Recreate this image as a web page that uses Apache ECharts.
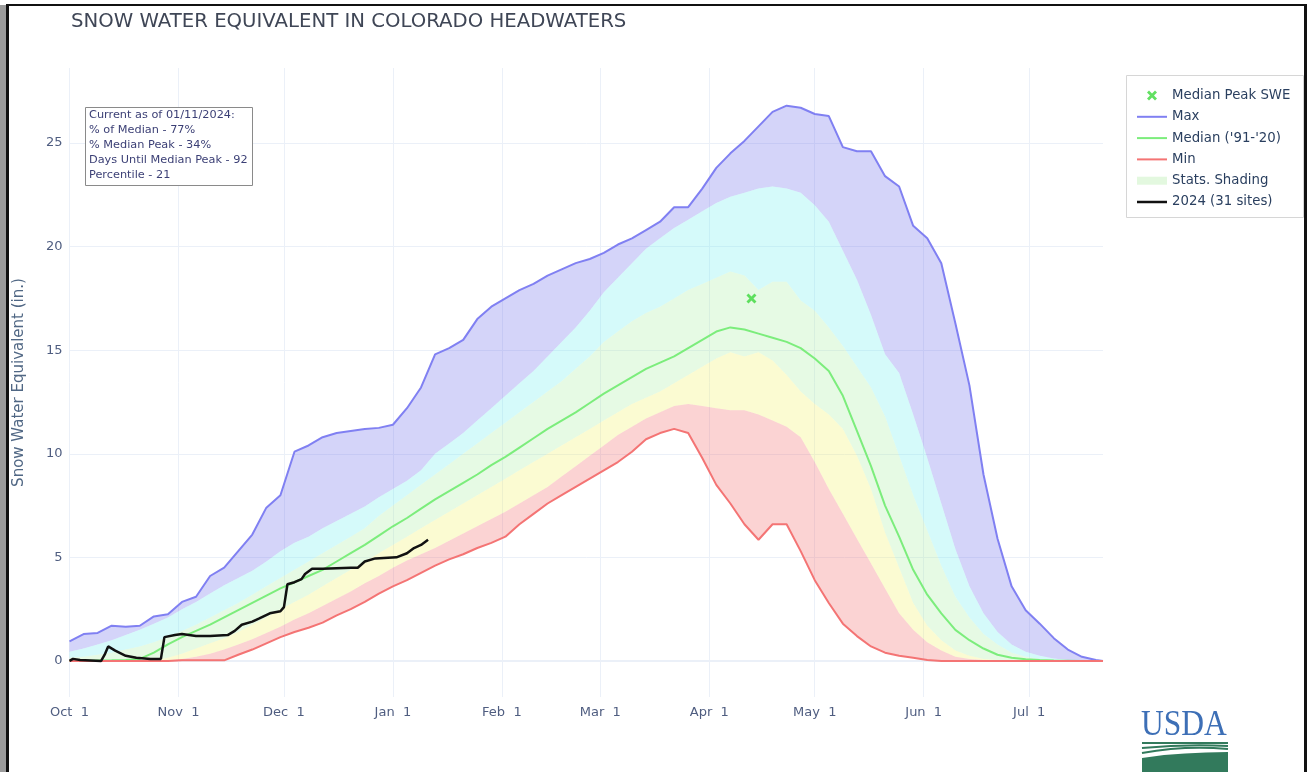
<!DOCTYPE html>
<html>
<head>
<meta charset="utf-8">
<script src="https://cdn.jsdelivr.net/npm/echarts@6/dist/echarts.min.js"></script>
<style>
  html, body { margin: 0; padding: 0; background: #fff; }
  #main { width: 1307px; height: 772px; }
</style>
</head>
<body>
<div id="main"></div>
<script>
// days since Oct 1 (water year day), shared by all the stats series
var days = [0,4,8,12,16,20,24,28,32,36,40,44,48,52,56,60,64,68,72,76,80,84,88,92,96,100,104,108,112,116,120,124,128,132,136,140,144,148,152,156,160,164,168,172,176,180,184,188,192,196,200,204,208,212,216,220,224,228,232,236,240,244,248,252,256,260,264,268,272,276,280,284,288,292,294];

var maxSwe = [0.95,1.3,1.35,1.7,1.65,1.7,2.15,2.25,2.85,3.1,4.1,4.5,5.3,6.1,7.4,8.0,10.1,10.4,10.8,11.0,11.1,11.2,11.25,11.4,12.2,13.2,14.8,15.1,15.5,16.5,17.1,17.5,17.9,18.2,18.6,18.9,19.2,19.4,19.7,20.1,20.4,20.8,21.2,21.9,21.9,22.8,23.8,24.5,25.1,25.8,26.5,26.8,26.7,26.4,26.3,24.8,24.6,24.6,23.4,22.9,21.0,20.4,19.2,16.3,13.3,9.0,5.9,3.6,2.45,1.8,1.1,0.55,0.2,0.05,0];
var p90 = [0.45,0.6,0.8,1.0,1.25,1.5,1.8,2.1,2.5,2.85,3.25,3.65,4.0,4.35,4.8,5.3,5.7,6.0,6.4,6.75,7.1,7.45,7.9,8.3,8.7,9.2,10.0,10.5,11.0,11.6,12.2,12.8,13.4,14.0,14.7,15.4,16.1,16.9,17.8,18.5,19.2,19.9,20.4,20.9,21.3,21.7,22.1,22.4,22.6,22.8,22.9,22.8,22.6,22.0,21.2,19.8,18.4,16.7,14.8,13.9,11.9,9.8,7.6,5.4,3.6,2.3,1.4,0.8,0.45,0.25,0.12,0.05,0.02,0,0];
var p70 = [0.15,0.2,0.3,0.4,0.55,0.7,0.9,1.15,1.45,1.75,2.1,2.45,2.8,3.2,3.6,4.0,4.4,4.8,5.2,5.6,6.0,6.4,7.0,7.5,8.0,8.5,9.0,9.5,10.0,10.5,11.0,11.5,12.0,12.5,13.0,13.5,14.1,14.7,15.4,15.9,16.4,16.8,17.1,17.5,17.9,18.2,18.5,18.8,18.6,17.9,18.3,18.3,17.4,16.9,16.1,15.2,14.2,13.2,11.8,9.9,8.0,6.3,4.6,3.1,2.1,1.3,0.8,0.4,0.2,0.1,0.05,0,0,0,0];
var median = [0,0,0.02,0.03,0.05,0.1,0.4,0.8,1.15,1.45,1.75,2.1,2.45,2.8,3.15,3.5,3.8,4.1,4.4,4.8,5.2,5.6,6.05,6.5,6.9,7.35,7.8,8.2,8.6,9.0,9.45,9.85,10.3,10.75,11.2,11.6,12.0,12.45,12.9,13.3,13.7,14.1,14.4,14.7,15.1,15.5,15.9,16.1,16.0,15.8,15.6,15.4,15.1,14.6,14.0,12.8,11.1,9.4,7.5,6.0,4.4,3.2,2.3,1.5,1.0,0.6,0.3,0.15,0.08,0.04,0.02,0.01,0,0,0];
var p30 = [0,0,0,0,0,0,0.03,0.15,0.35,0.6,0.85,1.1,1.4,1.75,2.1,2.5,2.85,3.2,3.6,4.0,4.4,4.8,5.2,5.6,6.0,6.4,6.8,7.2,7.6,8.0,8.4,8.8,9.2,9.6,10.0,10.4,10.8,11.2,11.6,12.0,12.4,12.7,13.0,13.4,13.8,14.2,14.6,14.9,14.7,14.9,14.5,13.8,13.0,12.4,11.9,11.2,9.9,8.3,6.2,4.5,2.8,1.7,1.0,0.5,0.25,0.1,0.05,0,0,0,0,0,0,0,0];
var p10 = [0,0,0,0,0,0,0,0.03,0.1,0.2,0.35,0.55,0.8,1.05,1.35,1.65,2.0,2.3,2.65,3.0,3.35,3.75,4.1,4.5,4.85,5.15,5.45,5.8,6.15,6.5,6.85,7.2,7.6,8.0,8.4,8.9,9.4,9.9,10.4,10.9,11.3,11.7,12.0,12.3,12.4,12.3,12.2,12.1,12.1,11.9,11.6,11.3,10.8,9.6,8.3,7.1,5.9,4.7,3.5,2.3,1.5,0.9,0.5,0.2,0.1,0.05,0,0,0,0,0,0,0,0,0];
var minSwe = [0,0,0,0,0,0,0,0,0.03,0.03,0.03,0.03,0.3,0.55,0.85,1.15,1.4,1.6,1.85,2.2,2.5,2.85,3.25,3.6,3.9,4.25,4.6,4.9,5.15,5.45,5.7,6.0,6.6,7.1,7.6,8.0,8.4,8.8,9.2,9.6,10.1,10.7,11.0,11.2,11.0,9.8,8.5,7.6,6.6,5.85,6.6,6.6,5.3,3.9,2.8,1.8,1.2,0.7,0.4,0.25,0.15,0.05,0,0,0,0,0,0,0,0,0,0,0,0,0];

// water year 2024, Oct 1 2023 .. Jan 11 2024
var wy2024Days = [0,1,3,9,10,11,13,16,19,23,26,27,30,32,36,40,45,47,49,52,54,57,60,61,62,64,66,67,69,72,80,82,84,87,93,96,98,100,102];
var wy2024 = [0,0.1,0.05,0,0.3,0.7,0.5,0.25,0.15,0.1,0.1,1.15,1.25,1.3,1.2,1.2,1.25,1.45,1.75,1.9,2.05,2.3,2.4,2.6,3.7,3.8,3.95,4.2,4.45,4.45,4.5,4.5,4.8,4.95,5.0,5.2,5.45,5.6,5.85];

var peakDay = 194;
var peakSwe = 17.5;

var monthDays = [0,31,61,92,123,151,182,212,243,273];
var monthLabels = ['Oct  1','Nov  1','Dec  1','Jan  1','Feb  1','Mar  1','Apr  1','May  1','Jun  1','Jul  1'];
var yTicks = [0,5,10,15,20,25];

var noteLines = [
    'Current as of 01/11/2024:',
    '% of Median - 77%',
    '% Median Peak - 34%',
    'Days Until Median Peak - 92',
    'Percentile - 21'
];

var FONT = '"DejaVu Sans", Verdana, sans-serif';
var TXT = '#2a3f5f';
var LOGO_GREEN = '#327a5c';
var C_MAX = '#8080f2', C_MED = '#7ced7c', C_MIN = '#f47474', C_2024 = '#111';

function pairs(xs, ys) {
    var out = [];
    for (var i = 0; i < xs.length; i++) out.push([xs[i], ys[i]]);
    return out;
}

function bandSeries(name, lower, upper, color) {
    return {
        type: 'custom',
        name: name,
        silent: true,
        z: 1,
        data: [[0, 0]],
        renderItem: function (params, api) {
            var pts = [];
            for (var i = 0; i < days.length; i++) pts.push(api.coord([days[i], upper[i]]));
            for (var j = days.length - 1; j >= 0; j--) pts.push(api.coord([days[j], lower[j]]));
            return { type: 'polygon', shape: { points: pts }, style: { fill: color } };
        }
    };
}

function lineSeries(name, xs, ys, color, width) {
    return {
        type: 'line',
        name: name,
        data: pairs(xs, ys),
        symbol: 'none',
        z: 3,
        lineStyle: { color: color, width: width },
        itemStyle: { color: color }
    };
}

function swoosh(y1, cy, y2) {
    return { type: 'bezierCurve', z: 10,
        shape: { x1: 1142, y1: y1, x2: 1228, y2: y2, cpx1: 1185, cpy1: cy },
        style: { stroke: LOGO_GREEN, lineWidth: 2, fill: null } };
}

var xMark = 'path://M2,0L5,3L8,0L10,2L7,5L10,8L8,10L5,7L2,10L0,8L3,5L0,2Z';
var lineIcon = 'path://M0,0H30V2H0Z';

var chart = echarts.init(document.getElementById('main'));

var graphics = [
    // page frame
    { type: 'rect', shape: { x: 0, y: 5, width: 6, height: 767 }, style: { fill: '#9b9b9b' } },
    { type: 'rect', shape: { x: 6, y: 4, width: 1301, height: 2 }, style: { fill: '#111' } },
    { type: 'rect', shape: { x: 6, y: 4, width: 3, height: 768 }, style: { fill: '#111' } },
    { type: 'rect', shape: { x: 1304, y: 4, width: 3, height: 768 }, style: { fill: '#111' } },
    // note box
    { type: 'rect', z: 10, shape: { x: 85.5, y: 107.5, width: 167, height: 78 },
      style: { fill: '#fff', stroke: '#8a8a8a', lineWidth: 1 } },
    // legend box
    { type: 'rect', z: -1, shape: { x: 1126.5, y: 75.5, width: 177, height: 142 },
      style: { fill: '#fff', stroke: '#d6d6d6', lineWidth: 1 } },
    // USDA logo
    { type: 'text', z: 10, x: 1141, y: 708, scaleX: 0.9,
      style: { text: 'USDA', font: '35px "Liberation Serif", serif', fill: '#3d6fb6' } },
    { type: 'line', z: 10, shape: { x1: 1142, y1: 743, x2: 1228, y2: 743 }, style: { stroke: LOGO_GREEN, lineWidth: 2 } },
    swoosh(748, 744, 746),
    swoosh(753, 745, 749),
    { type: 'polygon', z: 10,
      shape: { points: [[1142, 758], [1164, 755], [1185, 753.5], [1206, 752.5], [1228, 752], [1228, 772], [1142, 772]] },
      style: { fill: LOGO_GREEN } }
];
for (var k = 0; k < noteLines.length; k++) {
    graphics.push({ type: 'text', z: 11, x: 89, y: 110 + k * 15,
        style: { text: noteLines[k], font: '11.3px ' + FONT, fill: '#3b3f75' } });
}

var option = {
    animation: false,
    backgroundColor: '#fff',
    title: {
        text: 'SNOW WATER EQUIVALENT IN COLORADO HEADWATERS',
        left: 71, top: 12, padding: 0,
        textStyle: { fontFamily: FONT, fontSize: 19.7, fontWeight: 'normal', color: '#3f4656' }
    },
    grid: { left: 69.5, right: 204, top: 68, bottom: 75 },
    legend: {
        orient: 'vertical',
        left: 1137, top: 89, padding: 0,
        itemWidth: 30, itemHeight: 10, itemGap: 8.3,
        textStyle: { fontFamily: FONT, fontSize: 13.3, color: TXT },
        data: [
            { name: 'Median Peak SWE', icon: xMark, itemStyle: { color: '#3bd83b' } },
            { name: 'Max', icon: lineIcon, itemStyle: { color: C_MAX } },
            { name: "Median ('91-'20)", icon: lineIcon, itemStyle: { color: C_MED } },
            { name: 'Min', icon: lineIcon, itemStyle: { color: C_MIN } },
            { name: 'Stats. Shading', icon: 'path://M0,0H30V8H0Z', itemStyle: { color: '#e3f8df' } },
            { name: '2024 (31 sites)', icon: 'path://M0,0H30V2.5H0Z', itemStyle: { color: C_2024 } }
        ]
    },
    xAxis: {
        type: 'value', min: 0, max: 294,
        axisLine: { show: false },
        axisTick: { show: false, customValues: monthDays },
        splitLine: { show: true, lineStyle: { color: '#ebf0f8', width: 1 } },
        axisLabel: {
            customValues: monthDays, margin: 9,
            fontFamily: FONT, fontSize: 13, color: '#4f5d80',
            formatter: function (v) { return monthLabels[monthDays.indexOf(v)]; }
        }
    },
    yAxis: {
        type: 'value', min: -1.74, max: 28.62,
        name: 'Snow Water Equivalent (in.)', nameLocation: 'middle', nameGap: 43,
        nameTextStyle: { fontFamily: FONT, fontSize: 15, color: '#506784' },
        axisLine: { show: false },
        axisTick: { show: false, customValues: yTicks },
        splitLine: { show: true, lineStyle: { color: '#ebf0f8', width: 1 } },
        axisLabel: { customValues: yTicks, margin: 7, fontFamily: FONT, fontSize: 13, color: '#4f5d80' }
    },
    graphic: graphics,
    series: [
        {
            type: 'line', name: 'zero', data: [], silent: true,
            markLine: { silent: true, symbol: 'none', z: 1, label: { show: false },
                lineStyle: { color: '#ebf0f8', width: 2, type: 'solid' }, data: [{ yAxis: 0 }] }
        },
        bandSeries('p90-max', p90, maxSwe, 'rgba(112,112,235,0.3)'),
        bandSeries('p70-p90', p70, p90, 'rgba(115,238,238,0.3)'),
        bandSeries('Stats. Shading', p30, p70, 'rgba(172,238,165,0.3)'),
        bandSeries('p10-p30', p10, p30, 'rgba(242,242,105,0.3)'),
        bandSeries('min-p10', minSwe, p10, 'rgba(242,108,108,0.3)'),
        lineSeries('Max', days, maxSwe, C_MAX, 2),
        lineSeries("Median ('91-'20)", days, median, C_MED, 2),
        lineSeries('Min', days, minSwe, C_MIN, 2),
        lineSeries('2024 (31 sites)', wy2024Days, wy2024, C_2024, 2.5),
        {
            type: 'scatter', name: 'Median Peak SWE', z: 5,
            symbol: xMark, symbolSize: 10,
            itemStyle: { color: '#3bd83b' },
            data: [[peakDay, peakSwe]]
        }
    ]
};
chart.setOption(option, true);
window.onresize = chart.resize;
</script>
</body>
</html>
